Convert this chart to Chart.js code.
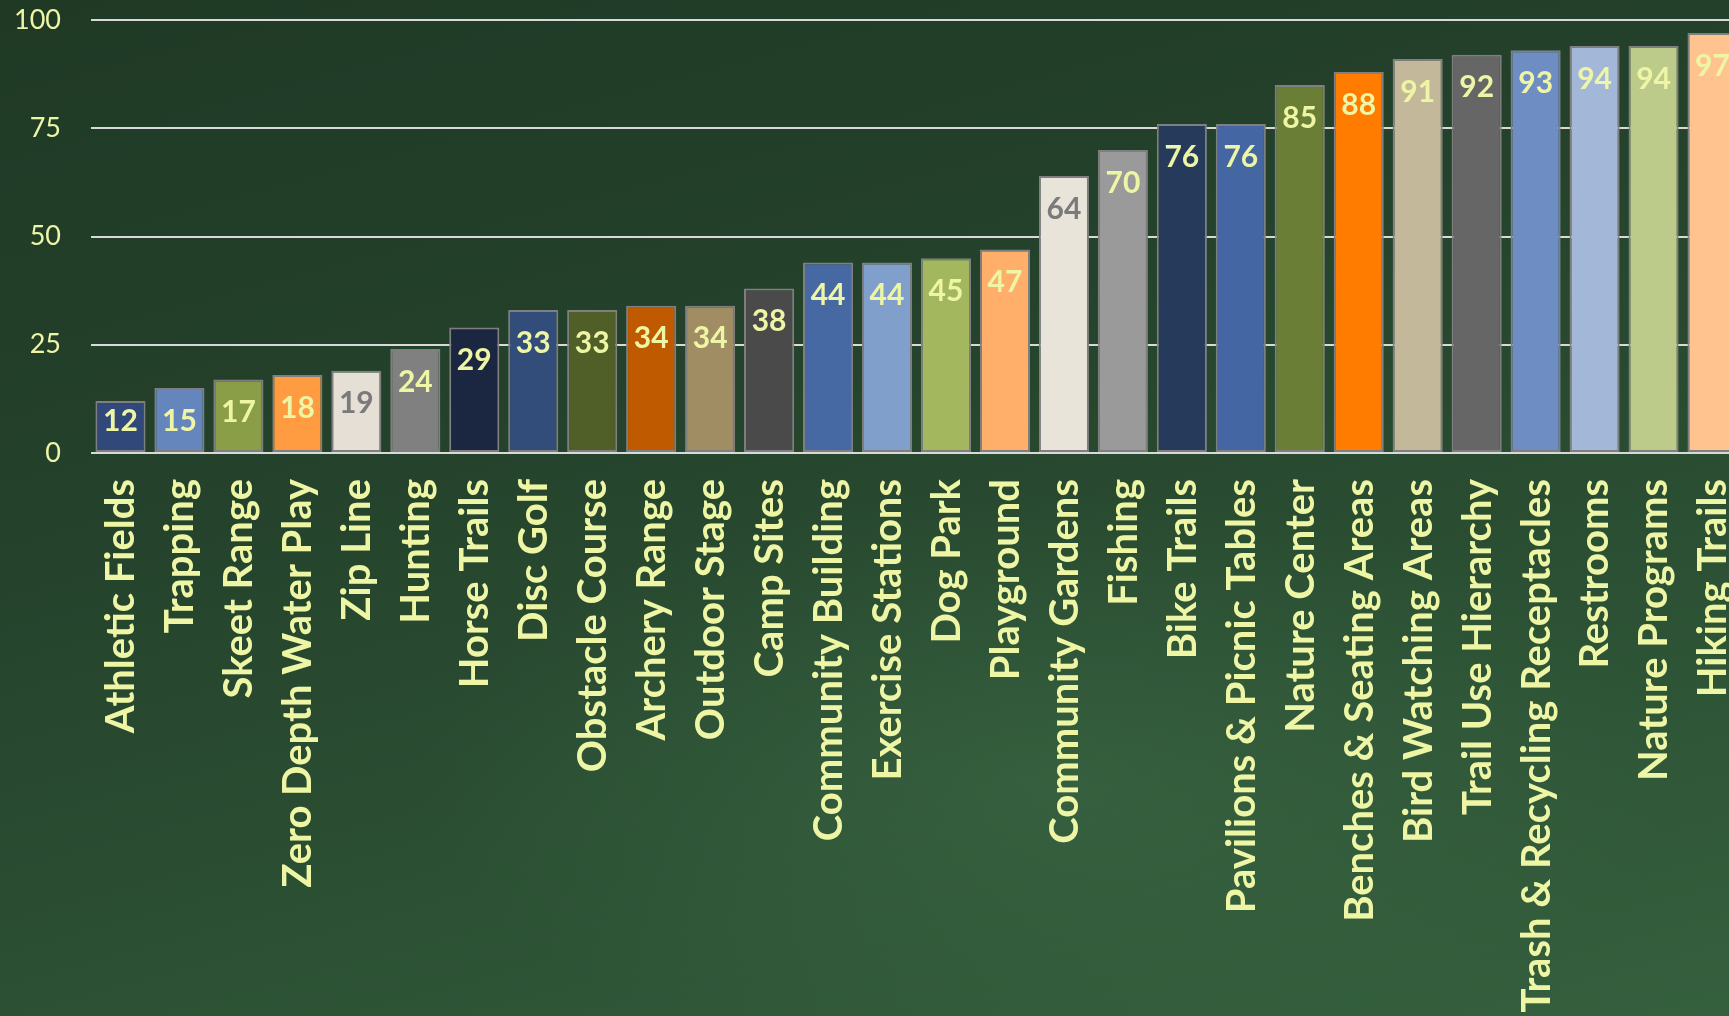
<!DOCTYPE html>
<html>
<head>
<meta charset="utf-8">
<script src="https://cdn.jsdelivr.net/npm/chart.js@4"></script>
<style>
  html, body {
    margin: 0;
    padding: 0;
    width: 1729px;
    height: 1016px;
    overflow: hidden;
    background:
      radial-gradient(ellipse 900px 420px at 1050px 780px, rgba(70, 120, 80, 0.35), rgba(70, 120, 80, 0) 70%),
      linear-gradient(165deg, #1f3925 0%, #24412b 35%, #2c5134 70%, #35603e 100%);
  }
  #wrap {
    position: absolute;
    left: 0;
    top: 0;
    width: 1742px;
    height: 1016px;
  }
</style>
</head>
<body>
<div id="wrap"><canvas id="mychart1"></canvas></div>
<script>
const categories = [
  "Athletic Fields", "Trapping", "Skeet Range", "Zero Depth Water Play",
  "Zip Line", "Hunting", "Horse Trails", "Disc Golf", "Obstacle Course",
  "Archery Range", "Outdoor Stage", "Camp Sites", "Community Building",
  "Exercise Stations", "Dog Park", "Playground", "Community Gardens",
  "Fishing", "Bike Trails", "Pavilions & Picnic Tables", "Nature Center",
  "Benches & Seating Areas", "Bird Watching Areas", "Trail Use Hierarchy",
  "Trash & Recycling Receptacles", "Restrooms", "Nature Programs",
  "Hiking Trails",
];
const values = [
  12, 15, 17, 18, 19, 24, 29, 33, 33, 34, 34, 38, 44, 44, 45, 47, 64, 70,
  76, 76, 85, 88, 91, 92, 93, 94, 94, 97,
];
const yTicks = [0, 25, 50, 75, 100];

const barColors = [
  "#31497a", "#6585bd", "#899e46", "#ff9b41", "#e5dfd6", "#808080",
  "#1b2741", "#334d7a", "#4f5f27", "#c05a00", "#a08d63", "#4a4a4a",
  "#4668a3", "#80a0cb", "#a3b85e", "#ffaf69", "#e8e4da", "#9a9a9a",
  "#263a5c", "#4467a3", "#6a7e36", "#ff7c00", "#c4b89b", "#666666",
  "#6e8dc2", "#a3b7d9", "#bdcb8a", "#ffc390",
];
const yellow = "#eef6a6";
const labelColors = values.map((v, i) =>
  categories[i] === "Zip Line" || categories[i] === "Community Gardens" ? "#7a7a7a" : yellow
);

// values written inside the top of each bar
const barValues = {
  id: "barValues",
  afterDatasetsDraw(chart) {
    const ctx = chart.ctx;
    const meta = chart.getDatasetMeta(0);
    ctx.save();
    ctx.font = "bold 30px Lato";
    ctx.textAlign = "center";
    ctx.textBaseline = "middle";
    meta.data.forEach((bar, i) => {
      const cy = Math.min(bar.y + 33, bar.base - 31);
      ctx.fillStyle = labelColors[i];
      ctx.fillText(String(values[i]), bar.x, cy);
    });
    ctx.restore();
  },
};

const chart1 = document.getElementById("mychart1").getContext("2d");

new Chart(chart1, {
  type: "bar",
  data: {
    labels: categories,
    datasets: [
      {
        label: "Percentage",
        data: values,
        backgroundColor: barColors,
        borderColor: "#7f7f7f",
        borderWidth: 2,
        borderSkipped: false,
        categoryPercentage: 1,
        barPercentage: 0.85,
      },
    ],
  },
  options: {
    responsive: true,
    maintainAspectRatio: false,
    animation: false,
    layout: {
      padding: { top: 20, right: 0, bottom: 0, left: 0 },
    },
    plugins: {
      legend: { display: false },
      title: { display: false },
      tooltip: { enabled: false },
    },
    scales: {
      x: {
        grid: { display: false, drawTicks: false },
        border: { display: false },
        ticks: {
          color: yellow,
          font: { family: "Lato", size: 40, weight: "bold" },
          autoSkip: false,
          minRotation: 90,
          maxRotation: 90,
          padding: 26,
          labelOffset: 1,
        },
        afterFit: (scale) => {
          scale.height = 563;
          scale.paddingLeft = 0;
          scale.paddingRight = 0;
        },
      },
      y: {
        min: 0,
        max: 100,
        afterBuildTicks: (scale) => {
          scale.ticks = yTicks.map((v) => ({ value: v }));
        },
        grid: { color: "#d9d9d9", lineWidth: 2, drawTicks: false },
        border: { display: false },
        ticks: {
          color: yellow,
          font: { family: "Lato", size: 27 },
          padding: 30,
        },
        afterFit: (scale) => {
          scale.width = 91;
          scale.paddingTop = 0;
          scale.paddingBottom = 0;
        },
      },
    },
  },
  plugins: [barValues],
});
</script>
</body>
</html>
